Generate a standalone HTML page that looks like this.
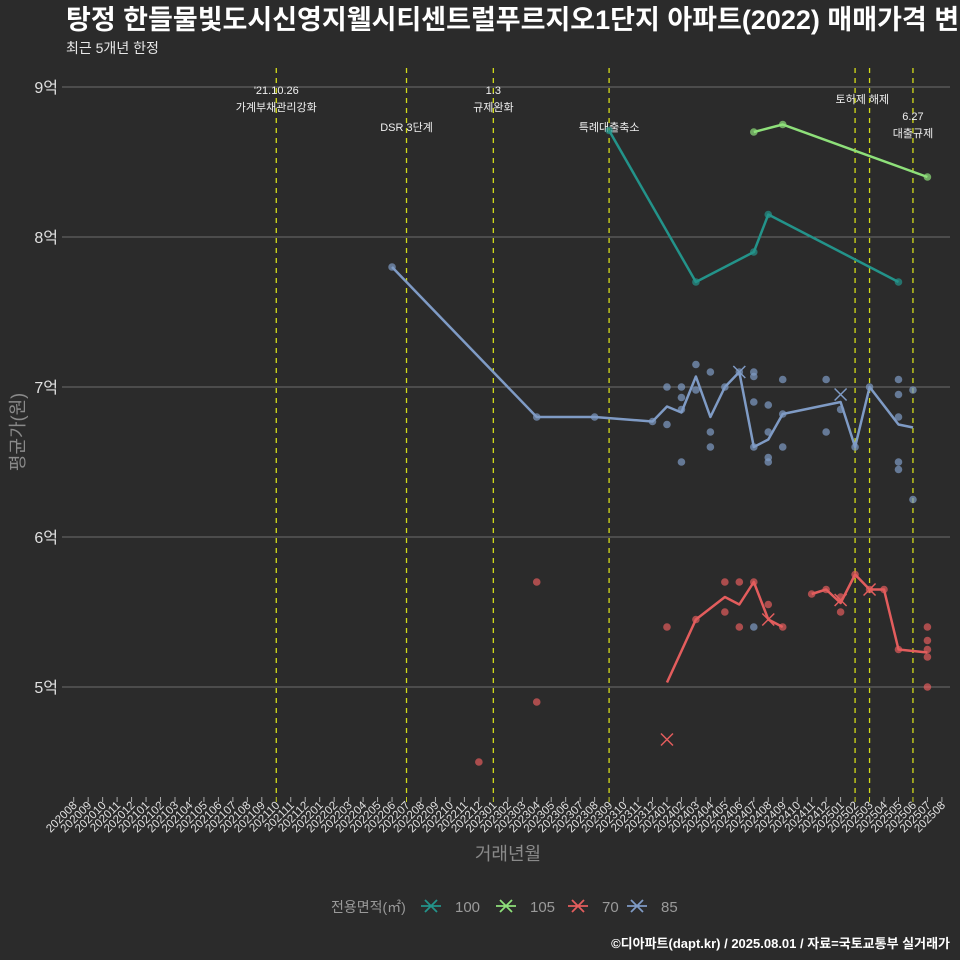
<!DOCTYPE html>
<html><head><meta charset="utf-8">
<style>
html,body{margin:0;padding:0;background:#2b2b2b;}
#wrap{position:relative;width:960px;height:960px;overflow:hidden;background:#2b2b2b;font-family:"Liberation Sans","Noto Sans CJK KR",sans-serif;}
svg text{font-family:"Liberation Sans","Noto Sans CJK KR",sans-serif;}
</style></head>
<body>
<div id="wrap">
<svg id="chart" width="960" height="960" xmlns="http://www.w3.org/2000/svg">
<text x="66" y="29" fill="#ffffff" font-size="27" font-weight="bold">탕정 한들물빛도시신영지웰시티센트럴푸르지오1단지 아파트(2022) 매매가격 변동</text>
<text x="66" y="53" fill="#e8e8e8" font-size="14">최근 5개년 한정</text>
<g id="grid"></g><g id="events"></g><g id="series"></g><g id="axes"></g>
<text transform="translate(24,432) rotate(-90)" text-anchor="middle" fill="#8a8a8a" font-size="18">평균가(원)</text>
<text x="508" y="860" text-anchor="middle" fill="#8a8a8a" font-size="18">거래년월</text>
<g id="legend"></g>
<text x="950" y="948" text-anchor="end" fill="#ffffff" font-size="13" font-weight="bold">©디아파트(dapt.kr) / 2025.08.01 / 자료=국토교통부 실거래가</text>
</svg>
</div>
<script>
const months = [];
for (let y = 2020, m = 8; months.length < 61; ) { months.push(String(y) + String(m).padStart(2,'0')); m++; if (m > 12) { m = 1; y++; } }
const yTicks = [5, 6, 7, 8, 9];
const yTickLabels = ['5억', '6억', '7억', '8억', '9억'];
const events = ['202110', '202207', '202301', '202309', '202502', '202503', '202506'];
const eventLabels = [['\'21.10.26','가계부채관리강화'],['DSR 3단계'],['1.3','규제완화'],['특례대출축소'],['토허제 해제'],[],['6.27','대출규제']];
const eventLabelY = [[94,111],[131],[94,111],[131],[103],[],[120,137]];
const eventLabelX = ['202110','202207','202301','202309','202503','202503','202506'];
const seriesNames = ['100', '105', '70', '85'];
const seriesColors = ['#23938a', '#8ee07a', '#e35d5d', '#7f9bc5'];
const line100 = [['202309',8.71],['202403',7.70],['202407',7.90],['202408',8.15],['202505',7.70]];
const line105 = [['202407',8.70],['202409',8.75],['202507',8.40]];
const line70 = [['202401',5.03],['202403',5.45],['202405',5.60],['202406',5.55],['202407',5.70],['202408',5.45],['202409',5.40],null,['202411',5.62],['202412',5.65],['202501',5.56],['202502',5.75],['202503',5.65],['202504',5.65],['202505',5.25],['202507',5.23]];
const line85 = [['202206',7.80],['202304',6.80],['202308',6.80],['202312',6.77],['202401',6.87],['202402',6.83],['202403',7.07],['202404',6.80],['202405',7.00],['202406',7.10],['202407',6.60],['202408',6.65],['202409',6.82],['202412',6.88],['202501',6.90],['202502',6.60],['202503',7.00],['202505',6.75],['202506',6.73]];
const pts100 = [['202309',8.71],['202403',7.70],['202407',7.90],['202408',8.15],['202505',7.70]];
const pts105 = [['202407',8.70],['202409',8.75],['202507',8.40]];
const pts70 = [['202212',4.50],['202304',5.70],['202304',4.90],['202401',5.40],['202403',5.45],['202405',5.70],['202405',5.50],['202406',5.70],['202406',5.40],['202407',5.70],['202408',5.55],['202409',5.40],['202411',5.62],['202412',5.65],['202501',5.50],['202501',5.60],['202502',5.75],['202503',5.65],['202504',5.65],['202505',5.25],['202507',5.40],['202507',5.31],['202507',5.25],['202507',5.20],['202507',5.00]];
const pts85 = [['202206',7.80],['202304',6.80],['202308',6.80],['202312',6.77],['202401',7.00],['202401',6.75],['202402',7.00],['202402',6.93],['202402',6.85],['202402',6.50],['202403',7.15],['202403',6.98],['202404',7.10],['202404',6.70],['202404',6.60],['202405',7.00],['202406',7.10],['202407',7.10],['202407',7.07],['202407',6.90],['202407',6.60],['202407',5.40],['202408',6.88],['202408',6.70],['202408',6.53],['202408',6.50],['202409',7.05],['202409',6.82],['202409',6.60],['202412',7.05],['202412',6.70],['202501',6.85],['202502',6.60],['202503',7.00],['202505',7.05],['202505',6.95],['202505',6.80],['202505',6.50],['202505',6.45],['202506',6.98],['202506',6.25]];
const cross70 = [['202401',4.65],['202408',5.45],['202501',5.58],['202503',5.65]];
const cross85 = [['202406',7.10],['202501',6.95]];

const NS = 'http://www.w3.org/2000/svg';
function xs(m){ return 73.7 + months.indexOf(m) * 14.47; }
function ys(v){ return 87 + (9 - v) * 150; }
function mk(tag, attrs, parent){ const e = document.createElementNS(NS, tag); for (const k in attrs) e.setAttribute(k, attrs[k]); parent.appendChild(e); return e; }

const grid = document.getElementById('grid');
yTicks.forEach((v, i) => {
  const l = mk('line', {x1:62, x2:950, y1:ys(v), y2:ys(v), stroke:'#6e6e6e', 'stroke-width':1}, grid);
  
  
  const t = mk('text', {x:58, y:ys(v)+6, 'text-anchor':'end', fill:'#e0e0e0', 'font-size':16}, grid);
  t.textContent = yTickLabels[i];
  
  
});

const axes = document.getElementById('axes');
months.forEach(m => {
  const x = xs(m);
  const isEv = events.includes(m);
  const tk = mk('line', {x1:x, x2:x, y1:797, y2:802, stroke: isEv ? '#c8d21e' : '#aaaaaa', 'stroke-width':1}, axes);
  
  
  const t = mk('text', {transform:'translate(' + (x+4) + ',806) rotate(-45)', 'text-anchor':'end', fill:'#e0e0e0', 'font-size':11.5}, axes);
  t.textContent = m;
  
  
});

const ev = document.getElementById('events');
events.forEach((m, i) => {
  const x = xs(m);
  const l = mk('line', {x1:x, x2:x, y1:68, y2:797, stroke:'#d4dc1a', 'stroke-width':1.3, 'stroke-dasharray':'5,5'}, ev);
  
  
  eventLabels[i].forEach((s, j) => {
    const lx = i === 4 ? (xs('202502') + xs('202503')) / 2 : xs(eventLabelX[i]);
    const t = mk('text', {x:lx, y:eventLabelY[i][j], 'text-anchor':'middle', fill:'#f0f0f0', 'font-size':11}, ev);
    t.textContent = s;
    
    
  });
});

const sg = document.getElementById('series');
function drawLine(data, color){
  let segs = [[]];
  data.forEach(p => { if (p === null) segs.push([]); else segs[segs.length-1].push(xs(p[0]).toFixed(1) + ',' + ys(p[1]).toFixed(1)); });
  segs.forEach(s => {
    const pl = mk('polyline', {points:s.join(' '), fill:'none', stroke:color, 'stroke-width':2.5, 'stroke-linejoin':'round'}, sg);
    
    
  });
}
function drawPts(data, color){
  data.forEach(p => {
    const c = mk('circle', {cx:xs(p[0]), cy:ys(p[1]), r:3.8, fill:color, 'fill-opacity':0.7}, sg);
    
    
  });
}
function drawCross(data, color){
  data.forEach(p => {
    const x = xs(p[0]), y = ys(p[1]);
    const g = mk('path', {d:'M'+(x-6)+','+(y-6)+'L'+(x+6)+','+(y+6)+'M'+(x-6)+','+(y+6)+'L'+(x+6)+','+(y-6), stroke:color, 'stroke-width':1.5}, sg);
    
    
  });
}
drawPts(pts85, seriesColors[3]); drawPts(pts70, seriesColors[2]); drawPts(pts100, seriesColors[0]); drawPts(pts105, seriesColors[1]);
drawLine(line85, seriesColors[3]); drawLine(line70, seriesColors[2]); drawLine(line100, seriesColors[0]); drawLine(line105, seriesColors[1]);
drawCross(cross85, seriesColors[3]); drawCross(cross70, seriesColors[2]);

const lg = document.getElementById('legend');
const lt = mk('text', {x:331, y:912, fill:'#9a9a9a', 'font-size':14}, lg);
lt.textContent = '전용면적(㎡)';


const lxs = [421, 496, 568, 627];
seriesNames.forEach((n, i) => {
  const x = lxs[i], y = 906;
  const k = mk('path', {d:'M'+x+','+y+'h20M'+(x+4)+','+(y-6)+'L'+(x+16)+','+(y+6)+'M'+(x+4)+','+(y+6)+'L'+(x+16)+','+(y-6), stroke:seriesColors[i], 'stroke-width':1.8}, lg);
  
  
  const t = mk('text', {x:x+34, y:912, fill:'#9a9a9a', 'font-size':15}, lg);
  t.textContent = n;
  
  
});
</script>
</body></html>
